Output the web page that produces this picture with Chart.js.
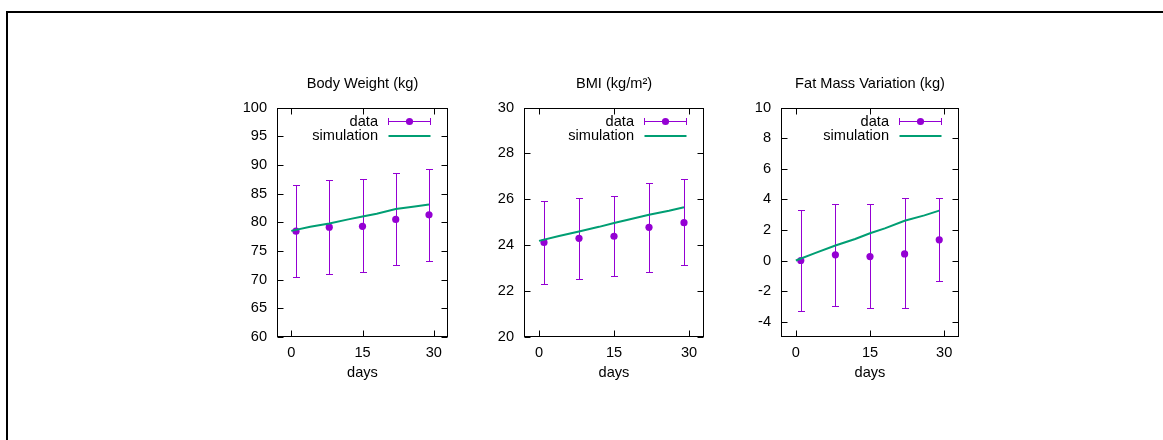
<!DOCTYPE html>
<html>
<head>
<meta charset="utf-8">
<script src="https://cdn.jsdelivr.net/npm/chart.js@4"></script>
<style>
body { margin: 0; background: #fff; width: 1163px; height: 440px; overflow: hidden; position: relative; }
#frame { position: absolute; left: 6px; top: 11px; width: 1300px; height: 600px; border-top: 2px solid #000; border-left: 2px solid #000; }
.box { position: absolute; top: 60px; height: 322px; }
</style>
</head>
<body>
<div id="frame"></div>
<div class="box" style="left:227px;width:241px"><canvas id="weight"></canvas></div>
<div class="box" style="left:474px;width:250px"><canvas id="bmi"></canvas></div>
<div class="box" style="left:731px;width:248px"><canvas id="fat"></canvas></div>
<script>
// days of the measurements and of the simulation curve
var dataDays = [1, 8, 15, 22, 29];
var simDays = [0, 4, 8, 12, 15, 18, 22, 26, 29];
var dayTicks = [0, 15, 30];
var legendLabels = ['data', 'simulation'];

// Body weight (kg)
var weightMean = [78.45, 79.15, 79.3, 80.5, 81.3];
var weightHigh = [86.5, 87.35, 87.5, 88.6, 89.3];
var weightLow = [70.4, 70.9, 71.3, 72.5, 73.3];
var weightSim = [78.5, 79.2, 79.8, 80.5, 81.0, 81.5, 82.3, 82.75, 83.1];
var weightTicks = [60, 65, 70, 75, 80, 85, 90, 95, 100];

// BMI
var bmiMean = [24.12, 24.3, 24.39, 24.78, 24.98];
var bmiHigh = [25.91, 26.07, 26.13, 26.7, 26.87];
var bmiLow = [22.33, 22.54, 22.64, 22.84, 23.12];
var bmiSim = [24.19, 24.4, 24.6, 24.8, 24.97, 25.12, 25.33, 25.5, 25.65];
var bmiTicks = [20, 22, 24, 26, 28, 30];

// Fat mass variation (kg)
var fatMean = [0.0, 0.37, 0.26, 0.43, 1.35];
var fatHigh = [3.33, 3.72, 3.67, 4.07, 4.09];
var fatLow = [-3.33, -2.96, -3.11, -3.11, -1.37];
var fatSim = [0.0, 0.5, 0.98, 1.41, 1.78, 2.1, 2.6, 2.95, 3.26];
var fatTicks = [-4, -2, 0, 2, 4, 6, 8, 10];

var purple = '#9400d3';
var green = '#009e73';
var fontFamily = "'Liberation Sans', Arial, Helvetica, sans-serif";
var fontSize = 14.6;

Chart.defaults.color = '#000';
Chart.defaults.font.family = fontFamily;
Chart.defaults.font.size = fontSize;

function toPoints(xs, ys) {
    return xs.map(function (x, i) { return { x: x, y: ys[i] }; });
}

// vertical error bars with small caps, drawn under the points
var errorBars = {
    id: 'errorBars',
    beforeDatasetsDraw: function (chart) {
        var ds = chart.data.datasets[1];
        var xs = chart.scales.x, ys = chart.scales.y;
        var ctx = chart.ctx;
        ctx.save();
        ctx.strokeStyle = purple;
        ctx.lineWidth = 1;
        ds.data.forEach(function (p, i) {
            var px = Math.round(xs.getPixelForValue(p.x)) + 0.5;
            var top = Math.round(ys.getPixelForValue(ds.high[i])) + 0.5;
            var bot = Math.round(ys.getPixelForValue(ds.low[i])) + 0.5;
            ctx.beginPath();
            ctx.moveTo(px, top); ctx.lineTo(px, bot);
            ctx.moveTo(px - 3.5, top); ctx.lineTo(px + 3.5, top);
            ctx.moveTo(px - 3.5, bot); ctx.lineTo(px + 3.5, bot);
            ctx.stroke();
        });
        ctx.restore();
    }
};

// gnuplot style box with inward, mirrored ticks
var gnuFrame = {
    id: 'gnuFrame',
    afterDraw: function (chart) {
        var a = chart.chartArea;
        var ctx = chart.ctx;
        var xs = chart.scales.x, ys = chart.scales.y;
        var l = Math.round(a.left) + 0.5, r = Math.round(a.right) - 0.5;
        var t = Math.round(a.top) + 0.5, b = Math.round(a.bottom) - 0.5;
        ctx.save();
        ctx.strokeStyle = '#000';
        ctx.lineWidth = 1;
        ctx.strokeRect(l, t, r - l, b - t);
        ctx.beginPath();
        ys.ticks.forEach(function (tk) {
            var py = Math.round(ys.getPixelForValue(tk.value)) + 0.5;
            ctx.moveTo(l, py); ctx.lineTo(l + 6, py);
            ctx.moveTo(r, py); ctx.lineTo(r - 6, py);
        });
        xs.ticks.forEach(function (tk) {
            var px = Math.round(xs.getPixelForValue(tk.value)) + 0.5;
            ctx.moveTo(px, b); ctx.lineTo(px, b - 6);
            ctx.moveTo(px, t); ctx.lineTo(px, t + 6);
        });
        ctx.stroke();
        ctx.restore();
    }
};

// key in the top right corner
var gnuLegend = {
    id: 'gnuLegend',
    afterDraw: function (chart) {
        var a = chart.chartArea;
        var ctx = chart.ctx;
        var tx = a.right - 70;
        var y1 = Math.round(a.top + 13.5) + 0.5, y2 = Math.round(a.top + 28.5);
        var s0 = Math.round(a.right - 60) + 0.5, s1 = Math.round(a.right - 18) + 0.5;
        ctx.save();
        ctx.font = fontSize + 'px ' + fontFamily;
        ctx.fillStyle = '#000';
        ctx.textAlign = 'right';
        ctx.textBaseline = 'middle';
        ctx.fillText(chart.data.datasets[1].label, tx, y1);
        ctx.fillText(chart.data.datasets[0].label, tx, y2);

        ctx.strokeStyle = purple;
        ctx.lineWidth = 1;
        ctx.beginPath();
        ctx.moveTo(s0, y1); ctx.lineTo(s1, y1);
        ctx.moveTo(s0, y1 - 3.5); ctx.lineTo(s0, y1 + 3.5);
        ctx.moveTo(s1, y1 - 3.5); ctx.lineTo(s1, y1 + 3.5);
        ctx.stroke();
        ctx.fillStyle = purple;
        ctx.beginPath();
        ctx.arc((s0 + s1) / 2, y1, 3.6, 0, Math.PI * 2);
        ctx.fill();

        ctx.strokeStyle = green;
        ctx.lineWidth = 2;
        ctx.beginPath();
        ctx.moveTo(s0, y2); ctx.lineTo(s1, y2);
        ctx.stroke();
        ctx.restore();
    }
};

function makePanel(canvasId, title, mean, low, high, sim, yMin, yMax, yTicks) {
    var ctx = document.getElementById(canvasId).getContext('2d');
    return new Chart(ctx, {
        type: 'scatter',
        data: {
            datasets: [{
                label: legendLabels[1],
                type: 'line',
                data: toPoints(simDays, sim),
                borderColor: green,
                borderWidth: 2,
                pointRadius: 0,
                fill: false,
                tension: 0,
                order: 0
            }, {
                label: legendLabels[0],
                data: toPoints(dataDays, mean),
                low: low,
                high: high,
                backgroundColor: purple,
                borderColor: purple,
                borderWidth: 0,
                pointRadius: 3.6,
                pointHoverRadius: 3.6,
                order: 1
            }]
        },
        options: {
            responsive: true,
            maintainAspectRatio: false,
            animation: false,
            events: [],
            layout: { padding: { left: 0, right: 20, top: 0, bottom: 0 } },
            plugins: {
                legend: { display: false },
                tooltip: { enabled: false },
                title: {
                    display: true,
                    text: title,
                    fullSize: false,
                    color: '#000',
                    font: { size: fontSize, weight: 'normal' },
                    padding: { top: 15.5, bottom: 14.5 }
                }
            },
            scales: {
                x: {
                    type: 'linear',
                    min: -3,
                    max: 33,
                    afterBuildTicks: function (s) { s.ticks = dayTicks.map(function (v) { return { value: v }; }); },
                    afterFit: function (s) { s.height = 45; },
                    grid: { display: false, drawTicks: false },
                    border: { display: false },
                    ticks: { padding: 7.5, maxRotation: 0, autoSkip: false },
                    title: { display: true, text: 'days', padding: { top: 3, bottom: 0 } }
                },
                y: {
                    type: 'linear',
                    min: yMin,
                    max: yMax,
                    afterBuildTicks: function (s) { s.ticks = yTicks.map(function (v) { return { value: v }; }); },
                    afterFit: function (s) { s.width = 50; },
                    grid: { display: false, drawTicks: false },
                    border: { display: false },
                    ticks: { padding: 10, autoSkip: false }
                }
            }
        },
        plugins: [errorBars, gnuFrame, gnuLegend]
    });
}

makePanel('weight', 'Body Weight (kg)', weightMean, weightLow, weightHigh, weightSim, 60, 100, weightTicks);
makePanel('bmi', 'BMI (kg/m\u00b2)', bmiMean, bmiLow, bmiHigh, bmiSim, 20, 30, bmiTicks);
makePanel('fat', 'Fat Mass Variation (kg)', fatMean, fatLow, fatHigh, fatSim, -5, 10, fatTicks);
</script>
</body>
</html>
